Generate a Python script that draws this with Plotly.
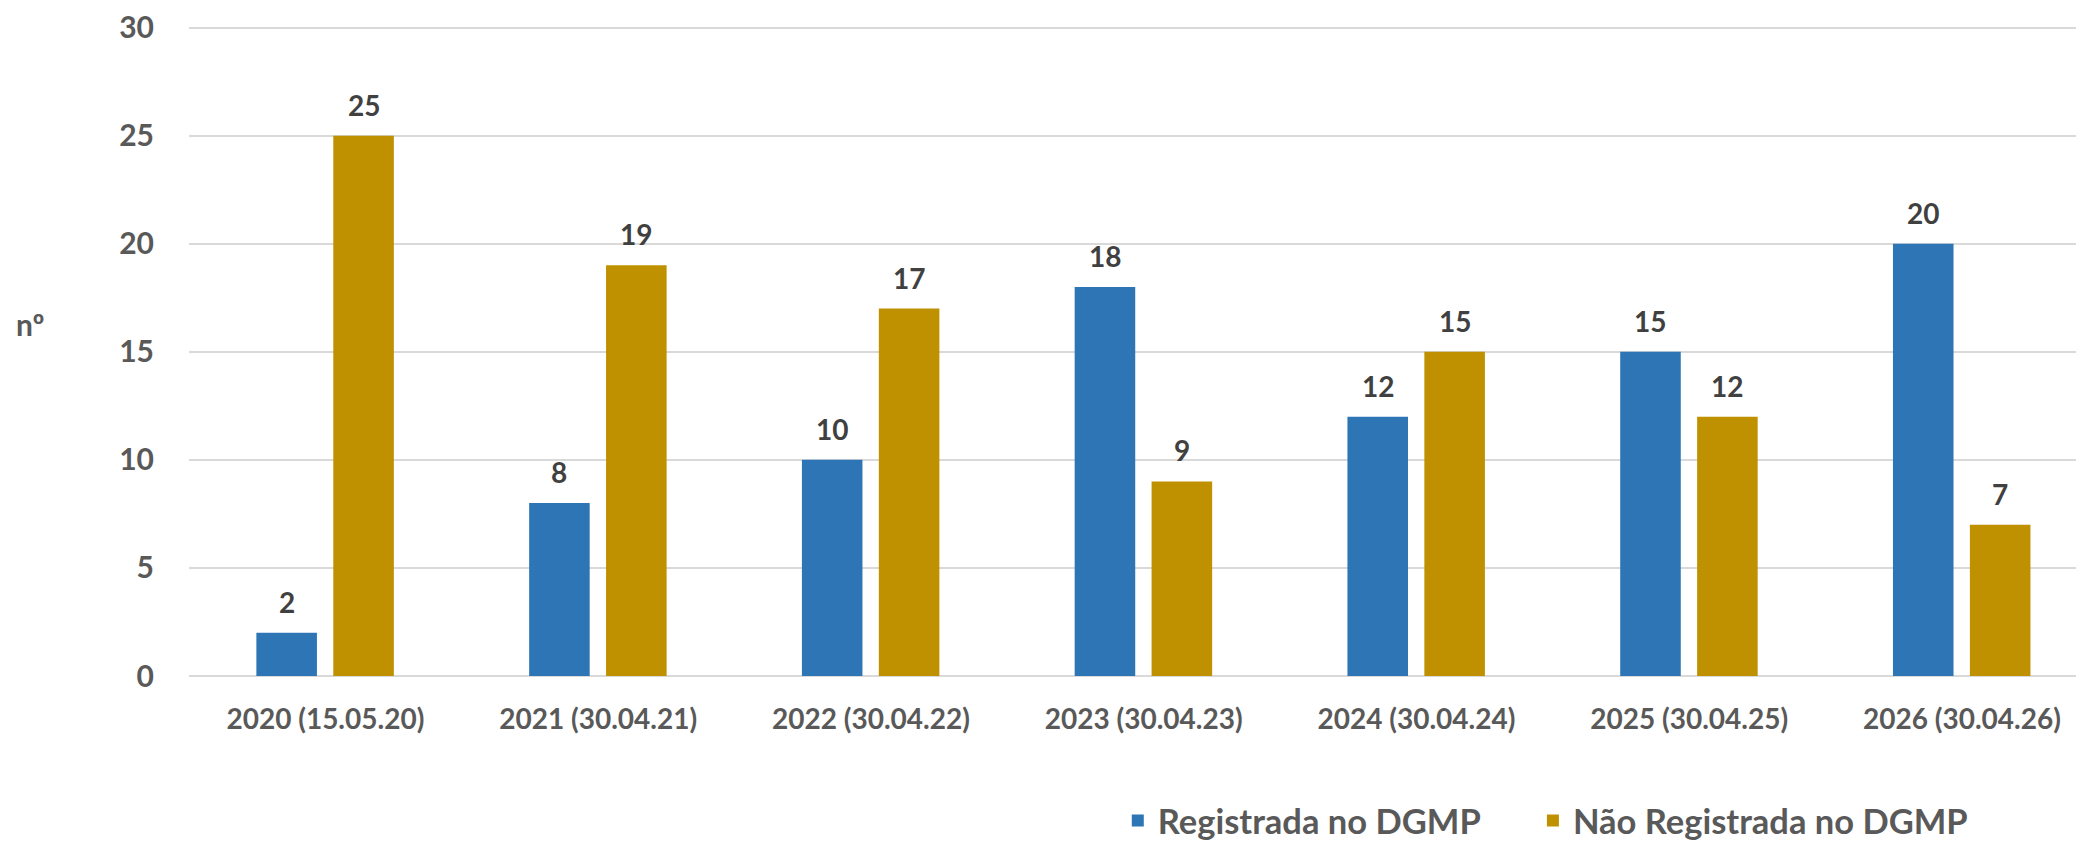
import plotly.graph_objects as go

categories = ["2020 (15.05.20)", "2021 (30.04.21)", "2022 (30.04.22)", "2023 (30.04.23)",
              "2024 (30.04.24)", "2025 (30.04.25)", "2026 (30.04.26)"]
registrada = [2, 8, 10, 18, 12, 15, 20]
nao_registrada = [25, 19, 17, 9, 15, 12, 7]
series_names = ["Registrada no DGMP", "Não Registrada no DGMP"]
y_ticks = [0, 5, 10, 15, 20, 25, 30]

BLUE = "#2E75B6"
GOLD = "#BF9000"
AXIS_TXT = "#595959"
LABEL_TXT = "#404040"
FONT = "Lato"

BAR_W = 0.222
OFFSETS = [-0.253, 0.029]

xs = list(range(len(categories)))

fig = go.Figure()
for name, vals, color, off, leg in [
    (series_names[0], registrada, BLUE, OFFSETS[0], "legend"),
    (series_names[1], nao_registrada, GOLD, OFFSETS[1], "legend2"),
]:
    fig.add_trace(go.Bar(
        x=xs, y=vals, name=name, width=BAR_W, offset=off,
        marker=dict(color=color, line=dict(width=0)),
        legend=leg, hoverinfo="x+y+name",
    ))
    for xi, v in zip(xs, vals):
        fig.add_annotation(
            x=xi + off + BAR_W / 2, y=v, text=str(v), showarrow=False,
            xanchor="center", yanchor="bottom", yshift=12,
            font=dict(family=FONT, size=28, color=LABEL_TXT, weight="bold"),
        )

fig.add_annotation(
    xref="paper", yref="paper", x=-0.0838, y=0.5407, text="nº", showarrow=False,
    xanchor="center", yanchor="middle",
    font=dict(family=FONT, size=30, color=AXIS_TXT, weight="bold"),
)

legend_common = dict(
    orientation="h", xref="paper", yref="paper",
    yanchor="bottom", y=-0.2665, bgcolor="rgba(0,0,0,0)",
    font=dict(family=FONT, size=34.5, color=AXIS_TXT, weight="bold"),
)

fig.update_layout(
    width=2076, height=843,
    margin=dict(l=189, r=0, t=25, b=167, autoexpand=False),
    paper_bgcolor="white", plot_bgcolor="white",
    barmode="overlay",
    showlegend=True,
    legend=dict(x=0.4922, **legend_common),
    legend2=dict(x=0.7122, **legend_common),
    xaxis=dict(
        range=[-0.5, 6.418], tickmode="array", tickvals=xs, ticktext=categories,
        showgrid=False, zeroline=False, showline=False, ticks="", automargin=False,
        tickfont=dict(family=FONT, size=28, color=AXIS_TXT, weight="bold"),
        ticklabelstandoff=24,
    ),
    yaxis=dict(
        range=[0, 30.12], tickmode="array", tickvals=y_ticks,
        showgrid=True, gridcolor="#D9D9D9", gridwidth=2,
        zeroline=True, zerolinecolor="#D9D9D9", zerolinewidth=2,
        showline=False, ticks="", automargin=False,
        tickfont=dict(family=FONT, size=30, color=AXIS_TXT, weight="bold"),
        ticklabelstandoff=34,
    ),
)

fig.write_html(
    "out.html",
    config={"displayModeBar": False},
    post_script="document.body.style.margin='0';document.body.style.overflow='hidden';",
)
